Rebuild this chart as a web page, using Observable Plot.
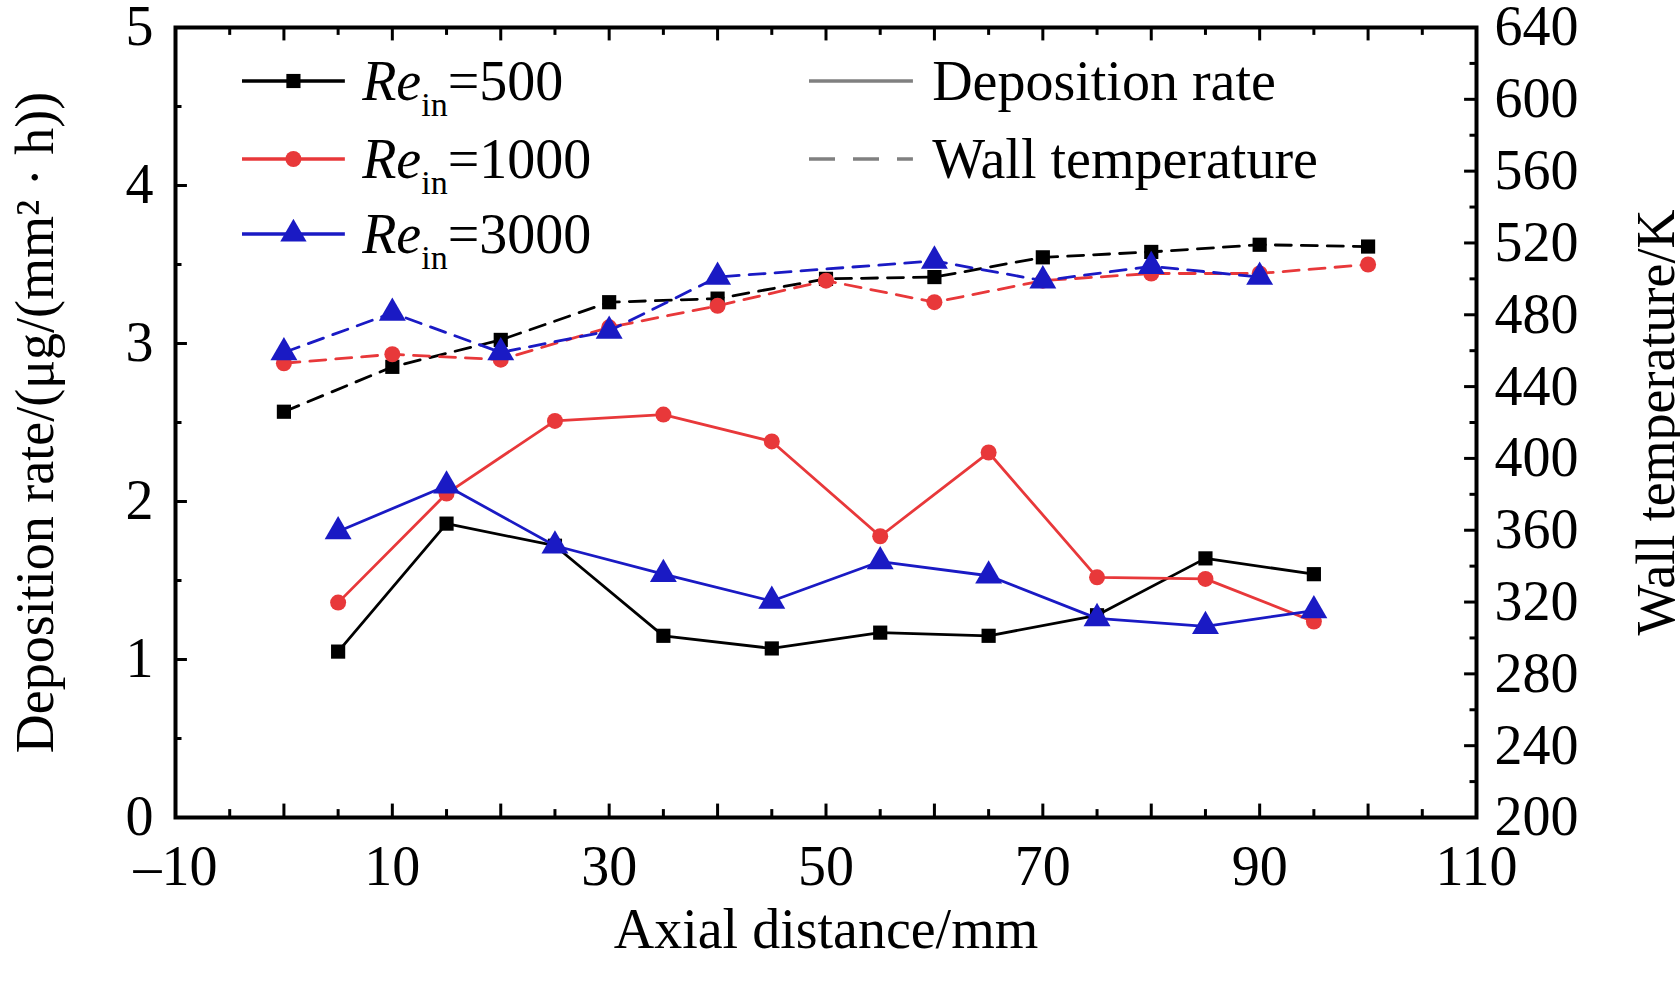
<!DOCTYPE html>
<html><head><meta charset="utf-8">
<script src="https://cdn.jsdelivr.net/npm/d3@7"></script>
<script src="https://cdn.jsdelivr.net/npm/@observablehq/plot@0.6"></script>
<style>
body{margin:0;background:#fff;font-family:"Liberation Serif",serif;}
#wrap{position:relative;width:1680px;height:984px;}
.lg{position:absolute;font-size:56px;line-height:56px;white-space:nowrap;}
.lg i{font-style:italic}
.lg sub{font-size:34px;vertical-align:-16px}
</style></head><body><div id="wrap"></div>
<script>
const dist = [5,15,25,35,45,55,65,75,85,95];
const dep500 = [1.05,1.86,1.72,1.15,1.07,1.17,1.15,1.28,1.64,1.54];
const dep1000 = [1.36,2.05,2.51,2.55,2.38,1.78,2.31,1.52,1.51,1.24];
const dep3000 = [1.81,2.10,1.72,1.54,1.37,1.62,1.53,1.26,1.21,1.31];
const tdist = [0,10,20,30,40,50,60,70,80,90,100];
const temp500 = [426,451,466,487,489,500,501,512,515,519,518];
const temp1000 = [453,458,455,473,485,499,487,499,503,503,508];
const tdist3000 = [0,10,20,30,40,60,70,80,90];
const temp3000 = [459,481,459,471,501,510,499,507,501];
const xTicks = [-10,10,30,50,70,90,110];
const yTicks = [0,1,2,3,4,5];
const tTicks = [200,240,280,320,360,400,440,480,520,560,600,640];

const toY = t => (t-200)/88;
const series = [
  {name:"500",c:"#000000",sym:"square",d:dep500,td:tdist,t:temp500},
  {name:"1000",c:"#e8383a",sym:"circle",d:dep1000,td:tdist,t:temp1000},
  {name:"3000",c:"#1a1ac4",sym:"triangle",d:dep3000,td:tdist3000,t:temp3000}
];
const marks = [];
for (const s of series) {
  const tdata = s.td.map((x,i)=>({x,y:toY(s.t[i])}));
  marks.push(Plot.line(tdata,{x:"x",y:"y",stroke:s.c,strokeWidth:2.8,strokeDasharray:"16,10"}));
  marks.push(Plot.dot(tdata,{x:"x",y:"y",fill:s.c,symbol:s.sym,r:s.sym==="triangle"?10:8}));
}
for (const s of series) {
  const ddata = dist.map((x,i)=>({x,y:s.d[i]}));
  marks.push(Plot.line(ddata,{x:"x",y:"y",stroke:s.c,strokeWidth:2.8}));
  marks.push(Plot.dot(ddata,{x:"x",y:"y",fill:s.c,symbol:s.sym,r:s.sym==="triangle"?10:8}));
}
const xMinor = d3.range(-10,111,5);
const yMinor = d3.range(0,5.01,0.5);
const tMinor = d3.range(200,641,20);
marks.push(Plot.ruleX(xMinor,{x:d=>d,y1:0,y2:d=>d%10===0?0.085:0.05,stroke:"black",strokeWidth:3}));
marks.push(Plot.ruleX(xMinor,{x:d=>d,y1:5,y2:d=>d%10===0?4.915:4.95,stroke:"black",strokeWidth:3}));
marks.push(Plot.ruleY(yMinor,{y:d=>d,x1:-10,x2:d=>Number.isInteger(d)?-8.9:-9.4,stroke:"black",strokeWidth:3}));
marks.push(Plot.ruleY(tMinor,{y:d=>toY(d),x1:110,x2:d=>d%40===0?108.9:109.4,stroke:"black",strokeWidth:3}));
marks.push(Plot.frame({stroke:"black",strokeWidth:4}));
marks.push(Plot.text(tTicks,{x:110,y:d=>toY(d),text:d=>String(d),textAnchor:"start",dx:18,fontSize:56,fill:"black"}));
marks.push(Plot.text(["Deposition rate/(μg/(mm² · h))"],{frameAnchor:"left",textAnchor:"middle",dx:-140,rotate:-90,fontSize:54,fill:"black"}));
marks.push(Plot.text(["Wall temperature/K"],{frameAnchor:"right",textAnchor:"middle",dx:180,rotate:-90,fontSize:54,fill:"black"}));
marks.push(Plot.text(["Axial distance/mm"],{frameAnchor:"bottom",textAnchor:"middle",dy:130,fontSize:56,fill:"black"}));

const chart = Plot.plot({
  width:1680,height:984,
  marginLeft:175,marginRight:204,marginTop:27,marginBottom:167,
  style:{fontFamily:"Liberation Serif, serif",fontSize:"56px",color:"black",background:"white",overflow:"visible"},
  x:{domain:[-10,110],ticks:xTicks,tickSize:0,tickPadding:28,label:null,tickFormat:d=>d<0?"\u2013"+(-d):String(d)},
  y:{domain:[0,5],ticks:yTicks,tickSize:0,tickPadding:22,label:null,tickFormat:d=>String(d)},
  marks
});
const wrap=document.getElementById("wrap");
wrap.appendChild(chart);
const k=1680/1568;
function leg(x,y,html){const d=document.createElement("div");d.className="lg";d.style.left=(x*k)+"px";d.style.top=(y*k-28)+"px";d.innerHTML=html;wrap.appendChild(d);}
function line(x1,x2,y,color,dash,sym){
  const s=d3.select(wrap).append("svg").style("position","absolute").style("left",(x1*k)+"px").style("top",(y*k-15)+"px").attr("width",(x2-x1)*k).attr("height",30);
  s.append("line").attr("x1",0).attr("x2",(x2-x1)*k).attr("y1",15).attr("y2",15).attr("stroke",color).attr("stroke-width",3.5).attr("stroke-dasharray",dash||null);
  if(sym){s.append("path").attr("d",d3.symbol(sym,sym===d3.symbolTriangle?300:200)()).attr("transform",`translate(${(x2-x1)*k/2},15)`).attr("fill",color);}
}
const rows=[76,148,218];
series.forEach((s,i)=>{line(226,322,rows[i],s.c,null,[d3.symbolSquare,d3.symbolCircle,d3.symbolTriangle][i]);leg(338,rows[i],`<i>Re</i><sub>in</sub>=${s.name}`);});
line(755,852,76,"#808080");leg(870,76,"Deposition rate");
line(755,852,148,"#808080","26,18");leg(870,148,"Wall temperature");
</script></body></html>
